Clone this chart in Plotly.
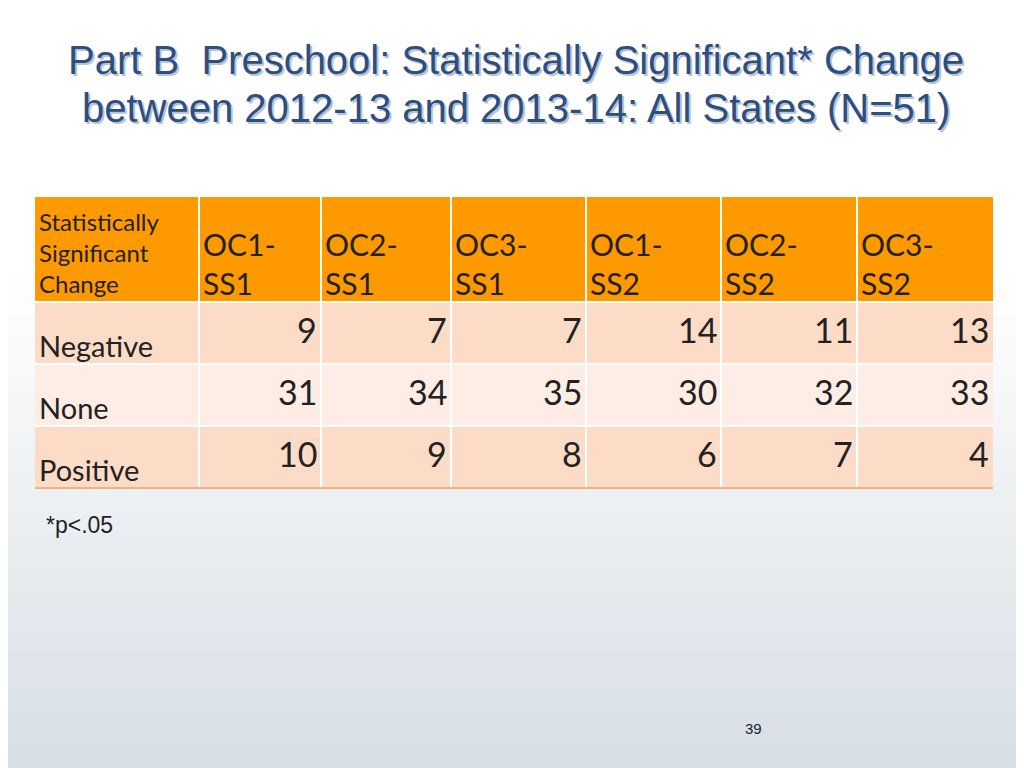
import plotly.graph_objects as go

title_lines = ["Part B  Preschool: Statistically Significant* Change",
               "between 2012-13 and 2013-14: All States (N=51)"]
corner = ["Statistically", "Significant", "Change"]
columns = ["OC1-<br>SS1", "OC2-<br>SS1", "OC3-<br>SS1", "OC1-<br>SS2", "OC2-<br>SS2", "OC3-<br>SS2"]
rows = ["Negative", "None", "Positive"]
values = [[9, 7, 7, 14, 11, 13],
          [31, 34, 35, 30, 32, 33],
          [10, 9, 8, 6, 7, 4]]
footnote = "*p<.05"
page = "39"

col_edges = [35, 199, 321, 451, 586, 721, 857, 993]
hdr_top, hdr_bot = 197, 302
row_h = 62

fig = go.Figure()
shapes = []
n = 40
for i in range(n):
    t = i / (n - 1)
    y0 = 790 * i / n
    y1 = 790 * (i + 1) / n
    f = max(0, (t - 0.35) / 0.65)
    r = int(255 - f * (255 - 214))
    g = int(255 - f * (255 - 222))
    b = int(255 - f * (255 - 230))
    shapes.append(dict(type="rect", x0=-10, x1=1040, y0=y0, y1=y1 + 1,
                       line=dict(width=0), fillcolor=f"rgb({r},{g},{b})", layer="below"))
shapes.append(dict(type="rect", x0=col_edges[0], x1=col_edges[-1], y0=hdr_top, y1=hdr_bot,
                   line=dict(width=0), fillcolor="#FF9900"))
row_fills = ["#FCDCC7", "#FDEDE5", "#FCDCC7"]
for ri in range(len(rows)):
    y0 = hdr_bot + ri * row_h
    shapes.append(dict(type="rect", x0=col_edges[0], x1=col_edges[-1], y0=y0, y1=y0 + row_h,
                       line=dict(width=0), fillcolor=row_fills[ri]))
    shapes.append(dict(type="line", x0=col_edges[0], x1=col_edges[-1], y0=y0, y1=y0,
                       line=dict(color="white", width=2)))
for xe in col_edges[1:-1]:
    shapes.append(dict(type="line", x0=xe, x1=xe, y0=hdr_top, y1=hdr_bot + 3 * row_h,
                       line=dict(color="white", width=2)))
shapes.append(dict(type="line", x0=col_edges[0], x1=col_edges[-1], y0=hdr_bot + 3 * row_h,
                   y1=hdr_bot + 3 * row_h, line=dict(color="#F4B183", width=2)))
for s in shapes:
    s.setdefault("xref", "x"); s.setdefault("yref", "y")

ann = []
tf = "Liberation Sans, Arial, sans-serif"
gf = "Lato, DejaVu Sans, sans-serif"
for i, line in enumerate(title_lines):
    for dx, col in [(2, "#B8C4D4"), (0, "#2E4E7E")]:
        ann.append(dict(x=516 + dx, y=60 + i * 48 + dx, text=line, showarrow=False,
                        font=dict(family=tf, size=40, color=col), xanchor="center", yanchor="middle"))
ann.append(dict(x=37, y=252, text="<br>".join(corner), showarrow=False, align="left",
                font=dict(family=gf, size=24, color="#222"), xanchor="left", yanchor="middle"))
for ci, c in enumerate(columns):
    ann.append(dict(x=col_edges[ci + 1] + 2, y=263, text=c, showarrow=False, align="left",
                    font=dict(family=gf, size=30, color="#222"), xanchor="left", yanchor="middle"))
for ri, r in enumerate(rows):
    y0 = hdr_bot + ri * row_h
    ann.append(dict(x=37, y=y0 + 43, text=r, showarrow=False,
                    font=dict(family=gf, size=29, color="#222"), xanchor="left", yanchor="middle"))
    for ci, v in enumerate(values[ri]):
        ann.append(dict(x=col_edges[ci + 2] - 2, y=y0 + 27, text=str(v), showarrow=False,
                        font=dict(family=gf, size=34, color="#222"), xanchor="right", yanchor="middle"))
ann.append(dict(x=44, y=525, text=footnote, showarrow=False,
                font=dict(family=tf, size=23, color="#222"), xanchor="left", yanchor="middle"))
ann.append(dict(x=753, y=728, text=page, showarrow=False,
                font=dict(family=tf, size=15, color="#222"), xanchor="center", yanchor="middle"))

fig.update_layout(width=1024, height=768, margin=dict(l=0, r=0, t=0, b=0),
                  paper_bgcolor="rgb(214,222,230)", plot_bgcolor="white", shapes=shapes, annotations=ann,
                  xaxis=dict(range=[8, 1032], visible=False, fixedrange=True),
                  yaxis=dict(range=[776, 8], visible=False, fixedrange=True),
                  showlegend=False)
fig.write_html("out.html", config={"displayModeBar": False})
